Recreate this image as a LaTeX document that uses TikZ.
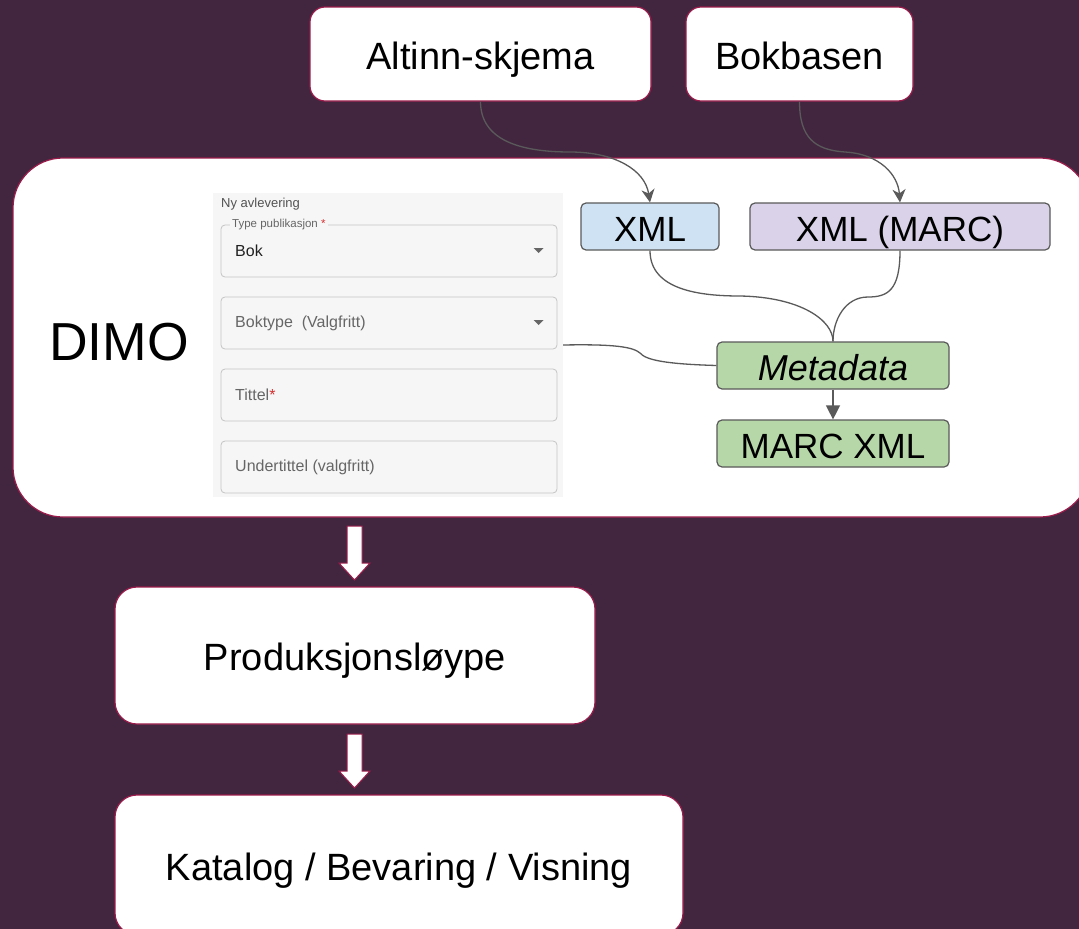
\documentclass[tikz,border=0pt]{standalone}
\usepackage{fontspec}
\setmainfont{Liberation Sans}
\usetikzlibrary{arrows.meta}
\tikzset{>=stealth}
\definecolor{plum}{HTML}{42263F}
\definecolor{wine}{HTML}{9B1B4B}
\definecolor{linegray}{HTML}{5A5A5A}
\definecolor{xmlblue}{HTML}{CFE2F3}
\definecolor{marclilac}{HTML}{D9D2E9}
\definecolor{metagreen}{HTML}{B6D7A8}
\definecolor{formbg}{HTML}{F6F6F6}
\definecolor{fieldline}{HTML}{C4C4C4}
\definecolor{hintgray}{HTML}{666666}
\definecolor{starred}{HTML}{D32F2F}
\tikzset{
  whitebox/.style={draw=wine, fill=white, line width=1.2pt, rounded corners=15pt, inner sep=0pt, text height=30pt, text depth=0pt, font=\fontsize{38}{42}\selectfont},
  databox/.style={draw=linegray, line width=1.2pt, rounded corners=5pt, inner sep=0pt, text height=30pt, text depth=0pt, font=\fontsize{35}{38}\selectfont},
  field/.style={draw=fieldline, line width=0.8pt, rounded corners=4pt},
  formtext/.style={anchor=west, inner sep=0pt, font=\fontsize{16}{19}\selectfont},
  link/.style={draw=linegray, line width=1.3pt},
}

\begin{document}
\begin{tikzpicture}[x=1pt,y=-1pt]
\useasboundingbox (0,0) rectangle (1079,929);
\fill[plum] (0,0) rectangle (1079,929);

\node[whitebox, minimum width=341, minimum height=94] (altinn) at (480.5,54) {Altinn-skjema};
\node[whitebox, minimum width=227, minimum height=94] (bokbasen) at (799.5,54) {Bokbasen};
\node[whitebox, rounded corners=50pt, minimum width=1077, minimum height=359] (dimo) at (551.5,337.5) {};
\node[font=\fontsize{53.5}{58}\selectfont, text height=38.3pt, text depth=0pt] (dimolabel) at (119,341) {DIMO};

% skjema
\node[fill=formbg, minimum width=350, minimum height=304, inner sep=0pt] (form) at (388,345) {};
\foreach \y in {225,297,369,441}
  \draw[field] (221,\y) rectangle (557,\y+52);
\node[formtext, font=\fontsize{13}{15}\selectfont, text=hintgray!80!black] (nyavl) at (221,204) {Ny avlevering};
\node[formtext, fill=formbg, inner xsep=2pt, font=\fontsize{11.5}{13}\selectfont, text=hintgray] (typelabel) at (230,225) {Type publikasjon \textcolor{starred}{*}};
\node[formtext, text=black!87] (bok) at (235,251) {Bok};
\node[formtext, text=hintgray] (boktype) at (235,323) {Boktype\ \ (Valgfritt)};
\node[formtext, text=hintgray] (tittel) at (235,395) {Tittel\textcolor{starred}{*}};
\node[formtext, text=hintgray] (undertittel) at (235,467) {Undertittel (valgfritt)};
\foreach \y in {250,322}
  \fill[hintgray] (533.5,\y-2) -- (543.5,\y-2) -- (538.5,\y+3) -- cycle;

\node[databox, fill=xmlblue, minimum width=138, minimum height=47] (xml) at (650,226.5) {XML};
\node[databox, fill=marclilac, minimum width=300, minimum height=47] (xmlmarc) at (900,226.5) {XML (MARC)};
\node[databox, fill=metagreen, minimum width=232, minimum height=47, font=\fontsize{36}{38}\selectfont\itshape] (meta) at (833,365.5) {Metadata};
\node[databox, fill=metagreen, minimum width=232, minimum height=47] (marcxml) at (833,443.5) {MARC XML};

\draw[link, -{Stealth[length=13pt,width=13pt,inset=4pt]}] (altinn.south) .. controls (480.5,140) and (520,152) .. (570,152) .. controls (615,152) and (645,170) .. (xml.north);
\draw[link, -{Stealth[length=13pt,width=13pt,inset=4pt]}] (bokbasen.south) .. controls (799.5,138) and (815,150) .. (845,152) .. controls (880,154) and (898,175) .. (xmlmarc.north);
\draw[link] (xml.south) .. controls (650,290) and (700,296) .. (740,296) .. controls (800,297) and (833,320) .. (meta.north);
\draw[link] (xmlmarc.south) .. controls (900,290) and (888,297) .. (868,297) .. controls (845,297) and (833,320) .. (meta.north);
\draw[link] (form.east) .. controls (615,344) and (633,347) .. (640,353) .. controls (646,360) and (665,364) .. (meta.west);
\draw[link, -{Triangle[length=14pt,width=14pt]}] (meta) -- (marcxml);

\node[whitebox, rounded corners=22pt, minimum width=480, minimum height=137] (prod) at (355,655.5) {Produksjonsløype};
\node[whitebox, rounded corners=22pt, minimum width=568, minimum height=140] (katalog) at (399,865) {Katalog / Bevaring / Visning};

\foreach \y in {526,734}
  \draw[wine, fill=white, line width=1pt] (347,\y) -- (362,\y) -- (362,\y+37) -- (370,\y+37) -- (354.5,\y+54) -- (339,\y+37) -- (347,\y+37) -- cycle;
\end{tikzpicture}
\end{document}
